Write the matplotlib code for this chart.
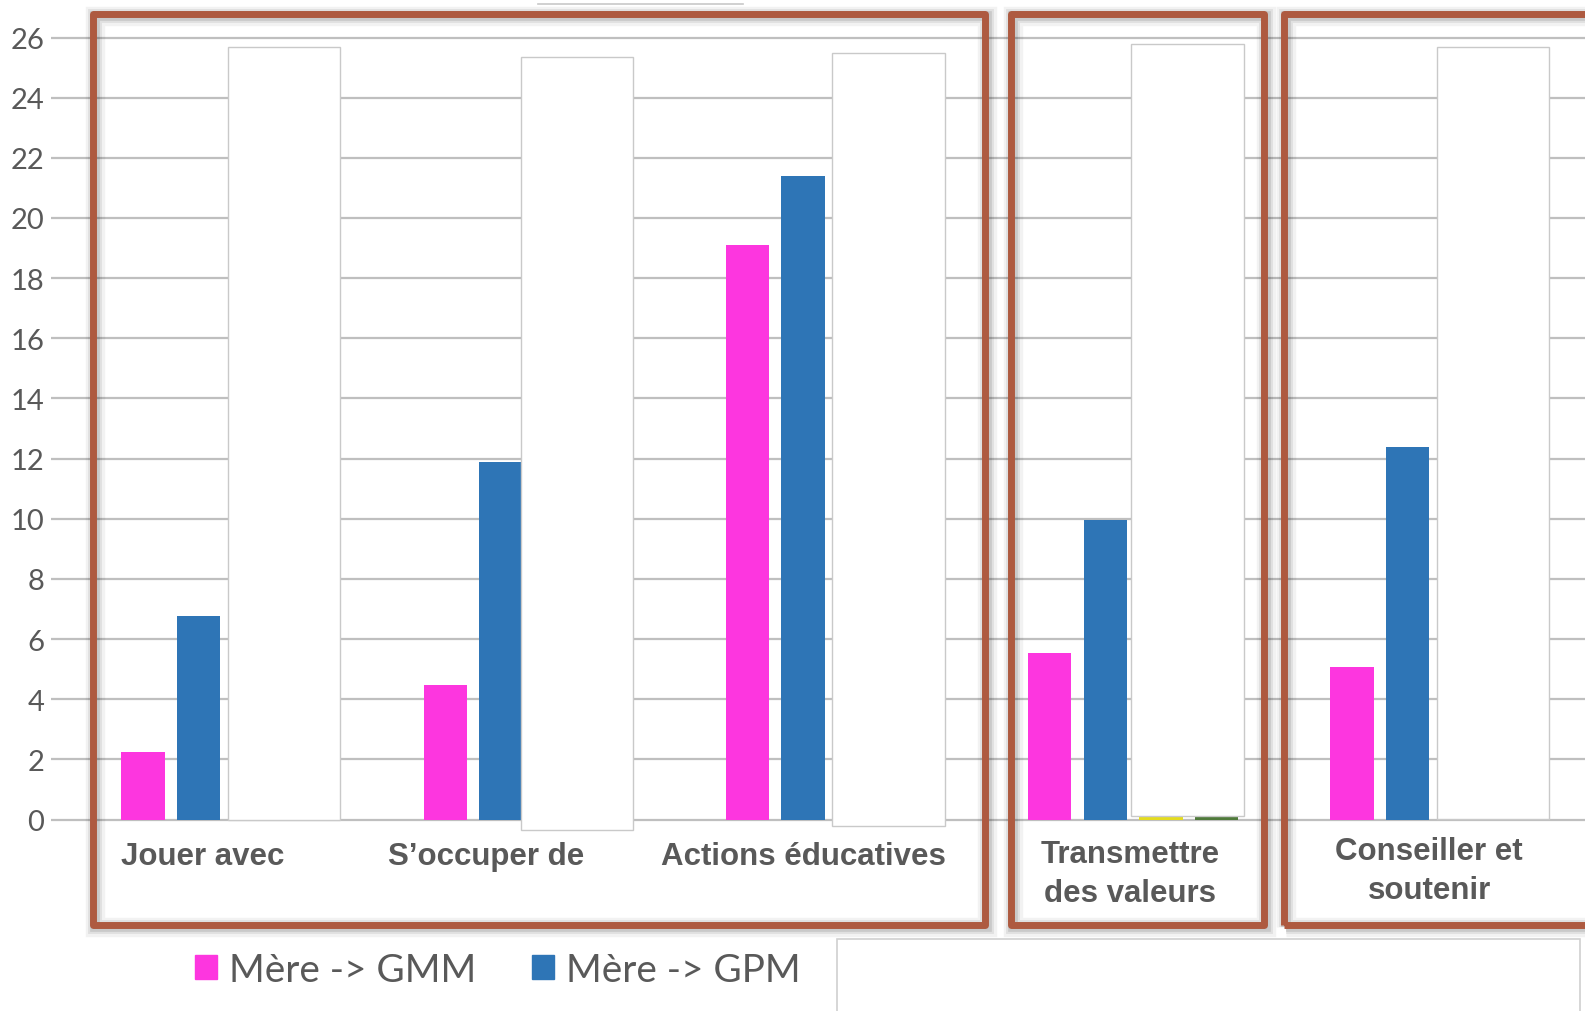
import matplotlib.pyplot as plt
import numpy as np
from matplotlib.patches import Rectangle, Patch
from matplotlib.lines import Line2D

# data
categories = ["Jouer avec", "S\u2019occuper de", "Actions \u00e9ducatives",
              "Transmettre\ndes valeurs", "Conseiller et\nsoutenir"]
mere_gmm = [2.25, 4.47, 19.1, 5.55, 5.08]
mere_gpm = [6.76, 11.9, 21.4, 9.96, 12.38]
# two more series, almost fully hidden by the white masks
serie_3 = [0.05, 0.0, 0.0, 0.15, 0.05]
serie_4 = [0.05, 0.0, 0.0, 0.15, 0.05]
# white boxes pasted over the chart (top / bottom of each mask)
mask_top = [25.7, 25.36, 25.5, 25.77, 25.7]
mask_bottom = [0.0, -0.34, -0.2, 0.12, 0.03]

yticks = np.arange(0, 27, 2)

pink = "#FD36DF"
blue = "#2E75B6"
grey_txt = "#595959"
frame_col = "#AE5A40"

W, H = 1585, 1012
fig = plt.figure(figsize=(W / 100, H / 100), dpi=100)
fig.patch.set_facecolor("white")

# axes placement (pixels measured on the picture)
ax_left, ax_right = 51, W
y0_px, y26_px = 820.5, 38.5
ppu = (y0_px - y26_px) / 26.0
ylo, yhi = -0.45, 26.9
bottom_px = y0_px - ylo * ppu
top_px = y0_px - yhi * ppu
ax = fig.add_axes([ax_left / W, 1 - bottom_px / H, (ax_right - ax_left) / W, (bottom_px - top_px) / H])

x = np.arange(len(categories))
cat_px = 302.2
c0_px = 226.5
ax.set_xlim((ax_left - c0_px) / cat_px, (ax_right - c0_px) / cat_px)
ax.set_ylim(ylo, yhi)

bw = 0.144
ax.bar(x - 0.276, mere_gmm, bw, color=pink, zorder=2, label="M\u00e8re -> GMM")
ax.bar(x - 0.092, mere_gpm, bw, color=blue, zorder=2, label="M\u00e8re -> GPM")
ax.bar(x + 0.092, serie_3, bw, color="#E4DC1E", zorder=2)
ax.bar(x + 0.276, serie_4, bw, color="#4F7A3A", zorder=2)

# white masks (hand placed, so a small shift per group)
mask_dx = [0.19, 0.16, 0.19, 0.18, 0.19]
heights = [t - b for t, b in zip(mask_top, mask_bottom)]
ax.bar(x + np.array(mask_dx), heights, 0.372, bottom=mask_bottom, color="white",
       edgecolor="#C9C9C9", linewidth=1.0, zorder=3)

ax.set_yticks(yticks)
ax.set_yticklabels([str(v) for v in yticks], fontsize=21, color=grey_txt, family="Lato")
ax.tick_params(axis="y", length=0, pad=5)
ax.set_xticks([])
ax.grid(axis="y", color="#BFBFBF", linewidth=1.6, zorder=0)
ax.set_axisbelow(True)
for s in ax.spines.values():
    s.set_visible(False)

# category labels (placed like text boxes in the original)
lab_dx = [-0.08, -0.14, -0.09, -0.01, -0.02]
lab_y = [-1.2, -1.2, -1.2, -1.8, -1.7]
for i, lab in enumerate(categories):
    ax.text(x[i] + lab_dx[i], lab_y[i], lab, ha="center", va="center",
            fontsize=22.5, fontweight="bold", color=grey_txt,
            family="Liberation Sans", linespacing=1.38, clip_on=False)

# brown frames with a soft shadow
frames = [(93, 15, 985, 926), (1011, 15, 1264, 926), (1284, 15, 1640, 926)]
for (x0, y0, x1, y1) in frames:
    for k, a in [(14, 0.05), (10, 0.07), (7, 0.10)]:
        fig.add_artist(Rectangle(((x0 + 2) / W, 1 - (y1 + 2) / H), (x1 - x0) / W, (y1 - y0) / H,
                                 transform=fig.transFigure, fill=False,
                                 edgecolor="black", alpha=a, linewidth=k, zorder=4))
    fig.add_artist(Rectangle((x0 / W, 1 - y1 / H), (x1 - x0) / W, (y1 - y0) / H,
                             transform=fig.transFigure, fill=False,
                             edgecolor=frame_col, linewidth=5, zorder=5,
                             joinstyle="round"))

# thin line left at the top (edge of a hidden box)
fig.add_artist(Line2D([538 / W, 743 / W], [1 - 5 / H, 1 - 5 / H],
                      transform=fig.transFigure, color="#C8C8C8", linewidth=1.2))

# legend
handles = [Patch(color=pink, label="M\u00e8re -> GMM"), Patch(color=blue, label="M\u00e8re -> GPM")]
fig.legend(handles=handles, loc="center left", bbox_to_anchor=(160 / W, 1 - 971 / H),
           ncol=2, frameon=False, prop={"family": "Lato", "size": 27.8},
           handlelength=0.58, handleheight=0.58, handletextpad=0.3,
           columnspacing=1.45, labelcolor=grey_txt)

# white box hiding the rest of the legend
fig.add_artist(Rectangle((837 / W, 1 - 1020 / H), (1580 - 837) / W, (1020 - 940) / H,
                         transform=fig.transFigure, facecolor="white",
                         edgecolor="#D0D0D0", linewidth=1.2, zorder=6))

fig.savefig("out.png", dpi=100)
